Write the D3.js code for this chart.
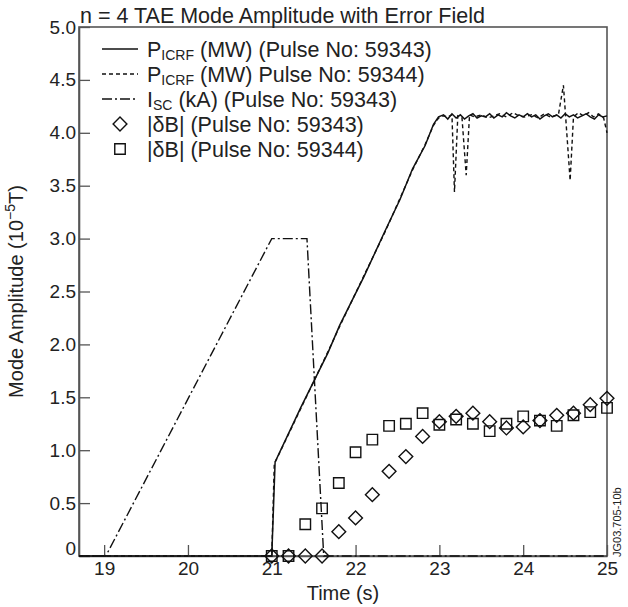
<!DOCTYPE html>
<html>
<head>
<meta charset="utf-8">
<script src="https://cdn.jsdelivr.net/npm/d3@7"></script>
<style>
  body { margin: 0; background: #fff; }
  text { font-family: "Liberation Sans", Arial, Helvetica, sans-serif; fill: #222; }
</style>
</head>
<body>
<svg id="chart" width="628" height="607"></svg>
<script>
// ---- data ----
const xTicks = [19, 20, 21, 22, 23, 24, 25];
const yTicks = [0, 0.5, 1, 1.5, 2, 2.5, 3, 3.5, 4, 4.5, 5];

// P_ICRF (MW), pulse 59343 : [time, value]
const pICRF59343 = [
    [18.7, 0], [21.0, 0], [21.04, 0.89], [21.35, 1.41], [21.67, 1.92], [21.81, 2.18],
    [22.1, 2.64], [22.35, 3.07], [22.53, 3.37], [22.68, 3.66], [22.83, 3.88], [22.93, 4.08],
    [22.99, 4.15], [23.05, 4.17], [23.1, 4.13], [23.15, 4.18], [23.2, 4.14], [23.25, 4.17],
    [23.3, 4.13], [23.35, 4.16], [23.4, 4.18], [23.45, 4.14], [23.5, 4.16], [23.55, 4.15],
    [23.6, 4.18], [23.65, 4.14], [23.7, 4.17], [23.75, 4.15], [23.8, 4.19], [23.85, 4.16],
    [23.9, 4.14], [23.95, 4.17], [24.0, 4.15], [24.05, 4.18], [24.1, 4.15], [24.15, 4.17],
    [24.2, 4.13], [24.25, 4.16], [24.3, 4.18], [24.35, 4.15], [24.4, 4.17], [24.45, 4.14],
    [24.5, 4.18], [24.55, 4.15], [24.6, 4.17], [24.65, 4.14], [24.7, 4.16], [24.75, 4.18],
    [24.8, 4.15], [24.85, 4.13], [24.9, 4.17], [24.95, 4.15], [25.0, 4.16]
];

// P_ICRF (MW), pulse 59344
const pICRF59344 = [
    [18.7, 0], [21.0, 0], [21.03, 0.87], [21.35, 1.40], [21.67, 1.93], [21.81, 2.17],
    [22.1, 2.65], [22.35, 3.06], [22.53, 3.38], [22.68, 3.65], [22.83, 3.89], [22.93, 4.07],
    [22.99, 4.14], [23.05, 4.16], [23.1, 4.15], [23.15, 4.17], [23.18, 3.44], [23.22, 4.16],
    [23.27, 4.14], [23.32, 3.60], [23.36, 4.17], [23.42, 4.15], [23.5, 4.17], [23.58, 4.14],
    [23.65, 4.16], [23.72, 4.18], [23.8, 4.15], [23.88, 4.19], [23.95, 4.16], [24.02, 4.15],
    [24.1, 4.17], [24.18, 4.14], [24.25, 4.18], [24.32, 4.15], [24.42, 4.17], [24.48, 4.45],
    [24.56, 3.55], [24.6, 4.15], [24.66, 4.19], [24.72, 4.16], [24.78, 4.19], [24.84, 4.15],
    [24.9, 4.18], [24.96, 4.14], [25.0, 4.0]
];

// I_SC (kA), pulse 59343
const iSC59343 = [
    [18.7, 0], [19.02, 0], [21.0, 3.0], [21.42, 3.0], [21.62, 0], [25.0, 0]
];

// |dB| mode amplitude samples
const markerTimes = [21.0, 21.2, 21.4, 21.6, 21.8, 22.0, 22.2, 22.4, 22.6, 22.8, 23.0,
                     23.2, 23.4, 23.6, 23.8, 24.0, 24.2, 24.4, 24.6, 24.8, 25.0];
const dB59343 = [0, 0, 0, 0, 0.23, 0.36, 0.58, 0.80, 0.94, 1.13, 1.27,
                 1.32, 1.35, 1.27, 1.21, 1.22, 1.28, 1.33, 1.35, 1.43, 1.49];
const dB59344 = [0, 0, 0.30, 0.45, 0.69, 0.98, 1.10, 1.23, 1.25, 1.35, 1.24,
                 1.29, 1.25, 1.18, 1.25, 1.32, 1.28, 1.23, 1.33, 1.36, 1.40];

// ---- layout ----
var margin = {top: 27, right: 21, bottom: 51, left: 79},
    width = 628 - margin.left - margin.right,
    height = 607 - margin.top - margin.bottom;

const svg = d3.select('#chart');
const g = svg.append('g').attr('transform', 'translate(' + margin.left + ',' + margin.top + ')');

var x = d3.scaleLinear().domain([18.7, 25]).range([0, width]);
var y = d3.scaleLinear().domain([0, 5]).range([height, 0]);

const ink = '#111';
const axisCol = '#555';

// frame (top + right)
g.append('rect')
    .attr('x', 0).attr('y', 0)
    .attr('width', width).attr('height', height)
    .attr('fill', 'none')
    .attr('stroke', axisCol)
    .attr('stroke-width', 1.6);

// axes, ticks pointing inward
const yAxis = g.append('g')
    .call(d3.axisLeft(y).tickValues(yTicks).tickSize(-11).tickSizeOuter(0).tickPadding(3)
        .tickFormat(d => d === 0 ? '0' : d3.format('.1f')(d)));
const xAxis = g.append('g')
    .attr('transform', 'translate(0,' + height + ')')
    .call(d3.axisBottom(x).tickValues(xTicks).tickSize(-11).tickSizeOuter(0).tickPadding(6)
        .tickFormat(d3.format('d')));

[yAxis, xAxis].forEach(a => {
    a.select('.domain').attr('stroke', axisCol).attr('stroke-width', 1.6);
    a.selectAll('.tick line').attr('stroke', axisCol).attr('stroke-width', 1.3);
    a.selectAll('.tick text')
        .attr('font-family', '"Liberation Sans", Arial, sans-serif')
        .attr('font-size', 19).attr('fill', '#222');
});
// "0" sits above the corner
yAxis.selectAll('.tick text').filter(d => d === 0).attr('dy', '-0.1em');

// ---- lines ----
const line = d3.line().x(d => x(d[0])).y(d => y(d[1]));

g.append('path').datum(iSC59343)
    .attr('d', line).attr('fill', 'none')
    .attr('stroke', ink).attr('stroke-width', 1.4)
    .attr('stroke-dasharray', '10,3,2,3');

g.append('path').datum(pICRF59344)
    .attr('d', line).attr('fill', 'none')
    .attr('stroke', ink).attr('stroke-width', 1.4)
    .attr('stroke-dasharray', '4,3');

g.append('path').datum(pICRF59343)
    .attr('d', line).attr('fill', 'none')
    .attr('stroke', ink).attr('stroke-width', 1.5);

// ---- markers ----
const diamond = d3.symbol().type(d3.symbolSquare).size(95);
const square = d3.symbol().type(d3.symbolSquare).size(110);

g.append('g')
    .selectAll('path')
    .data(markerTimes.map((t, i) => [t, dB59344[i]]))
    .enter()
    .append('path')
        .attr('d', square)
        .attr('transform', d => 'translate(' + x(d[0]) + ',' + y(d[1]) + ')')
        .attr('fill', 'none')
        .attr('stroke', ink)
        .attr('stroke-width', 1.4);

g.append('g')
    .selectAll('path')
    .data(markerTimes.map((t, i) => [t, dB59343[i]]))
    .enter()
    .append('path')
        .attr('d', diamond)
        .attr('transform', d => 'translate(' + x(d[0]) + ',' + y(d[1]) + ') rotate(45)')
        .attr('fill', 'none')
        .attr('stroke', ink)
        .attr('stroke-width', 1.4);

// ---- legend ----
const legend = svg.append('g');
const legendRows = [
    {main: 'P', sub: 'ICRF', rest: ' (MW) (Pulse No: 59343)', kind: 'solid'},
    {main: 'P', sub: 'ICRF', rest: ' (MW) Pulse No: 59344)', kind: 'dash'},
    {main: 'I', sub: 'SC', rest: ' (kA) (Pulse No: 59343)', kind: 'dashdot'},
    {main: '|\u03B4B| (Pulse No: 59343)', sub: '', rest: '', kind: 'diamond'},
    {main: '|\u03B4B| (Pulse No: 59344)', sub: '', rest: '', kind: 'square'}
];

legendRows.forEach((r, i) => {
    const base = 57 + i * 25;
    const cy = base - 8;
    if (r.kind === 'solid' || r.kind === 'dash' || r.kind === 'dashdot') {
        legend.append('line')
            .attr('x1', 102).attr('x2', 138).attr('y1', cy).attr('y2', cy)
            .attr('stroke', ink).attr('stroke-width', 1.4)
            .attr('stroke-dasharray', r.kind === 'dash' ? '4,3' : r.kind === 'dashdot' ? '10,3,2,3' : null);
    } else {
        legend.append('path')
            .attr('d', r.kind === 'diamond' ? diamond : square)
            .attr('transform', 'translate(120,' + cy + ')' + (r.kind === 'diamond' ? ' rotate(45)' : ''))
            .attr('fill', 'none').attr('stroke', ink).attr('stroke-width', 1.4);
    }
    const t = legend.append('text')
        .attr('x', 147).attr('y', base)
        .attr('font-size', 21.5);
    t.append('tspan').text(r.main);
    if (r.sub) {
        t.append('tspan').attr('font-size', 14).attr('dy', 3).text(r.sub);
        t.append('tspan').attr('dy', -3).text(r.rest);
    }
});

// ---- titles ----
svg.append('text')
    .attr('x', 80).attr('y', 23)
    .attr('font-size', 21.5)
    .text('n = 4 TAE Mode Amplitude with Error Field');

const yl = svg.append('text')
    .attr('transform', 'translate(23,' + (margin.top + height / 2) + ') rotate(-90)')
    .attr('text-anchor', 'middle')
    .attr('font-size', 20);
yl.append('tspan').text('Mode Amplitude (10');
yl.append('tspan').attr('font-size', 14).attr('dy', -8).text('\u22125');
yl.append('tspan').attr('dy', 8).text('T)');

svg.append('text')
    .attr('x', margin.left + width / 2).attr('y', 600)
    .attr('text-anchor', 'middle')
    .attr('font-size', 20)
    .text('Time (s)');

svg.append('text')
    .attr('transform', 'translate(621,557) rotate(-90)')
    .attr('font-size', 11)
    .attr('fill', '#333')
    .text('JG03.705-10b');
</script>
</body>
</html>
